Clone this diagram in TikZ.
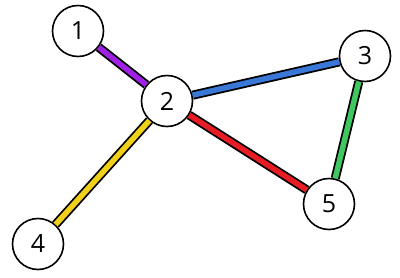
\documentclass[tikz,border=0pt]{standalone}
\usepackage{fontspec}
\setsansfont{Open Sans}
\usepackage{tikz}
\usetikzlibrary{positioning}
\definecolor{edgepurple}{RGB}{160,32,230}
\definecolor{edgeblue}{RGB}{58,120,216}
\definecolor{edgegreen}{RGB}{64,200,96}
\definecolor{edgered}{RGB}{232,28,36}
\definecolor{edgeyellow}{RGB}{240,208,24}
\tikzset{
    % vertex circles
    vertex/.style={
        circle,
        draw=black,
        line width=1.6pt,
        fill=white,
        minimum size=51pt,
        inner sep=0pt,
        font=\sffamily\fontsize{25}{25}\selectfont
    },
    % coloured edges with black rim
    band/.style={
        line width=1.8pt,
        double=#1,
        double distance=5.5pt
    }
}

\begin{document}
\begin{tikzpicture}[x=1pt,y=-1pt]
	\useasboundingbox (0,0) rectangle (400,277);
	
	% vertices
	\node[vertex] (n1) at (78,31) {1};
	\node[vertex] (n2) at (167,101) {2};
	\node[vertex] (n3) at (365,56) {3};
	\node[vertex] (n4) at (38,244) {4};
	\node[vertex] (n5) at (329,204) {5};
	
	% edges
	\draw[band=edgepurple] (n1) -- (n2);
	\draw[band=edgeblue] (n2) -- (n3);
	\draw[band=edgered] (n2) -- (n5);
	\draw[band=edgegreen] (n3) -- (n5);
	\draw[band=edgeyellow] (n2) -- (n4);
\end{tikzpicture}
\end{document}
